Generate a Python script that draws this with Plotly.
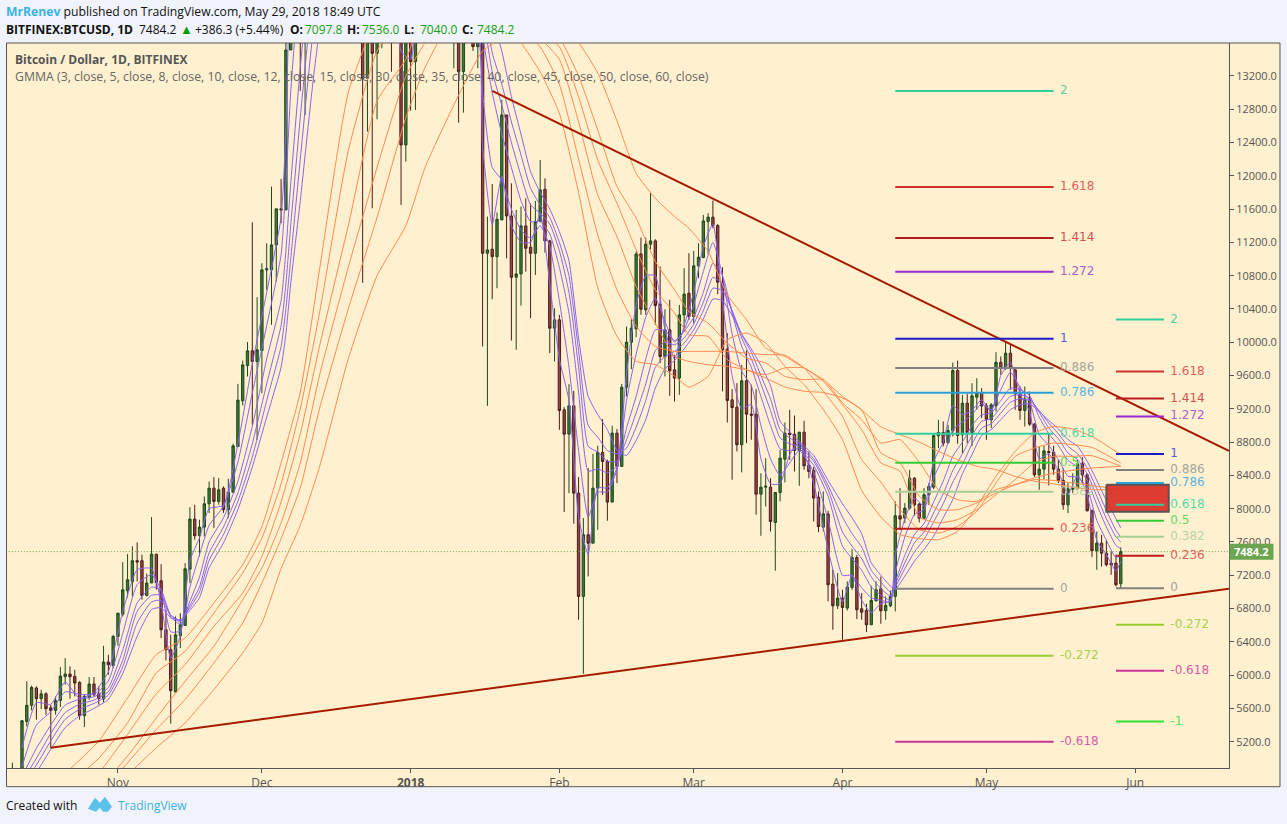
import pandas as pd
import plotly.graph_objects as go

W, H = 1287, 824
L, R, T, B = 7, 1229.5, 43, 768.3

FIRST_DAY = "2017-10-10"
OPEN = [4780,4790,4820,5444,5637,5845,5717,5775,5607,5576,5697,5981,6013,5985,5913,5513,5735,5893,5775,5713,6157,6117,
 6465,6733,7014,7126,7375,7375,6958,7107,7454,7134,6545,6305,5797,6473,6597,7274,7875,7675,7779,8059,8247,8087,8247,7987,8199,8748,9296,9720,9897,9769,
 9901,10870,10870,11170,11603,11590,13512,16500,16300,14700,15300,16800,17200,16300,16400,17500,19300,19100,18900,17300,16000,15500,13172,14400,13472,14200,15800,15400,14400,14500,12371,
 14000,13372,14700,15100,15200,17000,17100,16200,15000,14400,14900,13252,13800,14200,13552,13650,11069,11118,11029,11470,12731,11518,10781,10821,11398,11142,11069,11450,11838,11218,10169,
 10269,9188,8896,9236,8187,6946,7687,7586,8247,8676,8568,8079,8908,8508,9460,10001,10161,11062,10389,11178,11218,10457,9829,10149,9669,9569,10329,10590,
 10309,10918,11018,11450,11503,11402,10722,9917,9308,9220,8768,9537,9136,9136,8175,8259,8259,7834,8195,8595,8908,8896,8699,8920,8523,8459,8139,7778,7935,7094,6833,
 6926,6806,7054,7414,6797,6777,6605,6894,7038,6773,6834,6946,7915,7886,8007,8367,8055,7886,8167,8259,8876,8916,8795,8936,9660,8888,9268,8916,9340,9388,
 9236,9068,9236,9760,9688,9869,9668,9380,9180,9320,9016,8407,8475,8687,8679,8475,8339,8047,8235,8247,8539,8407,7975,7494,7586,7466,7346,7346,7097.8]
HIGH = [4947,4880,5452,5925,5873,5865,5825,5795,5645,5745,6097,6205,6105,6065,5925,5765,5977,5977,5865,6353,6245,6485,
 6745,7358,7454,7547,7595,7447,7219,7899,7454,7334,6785,6485,6705,6745,7346,8019,8047,7867,8147,8327,8379,8367,8267,8359,8780,9500,9780,10001,11442,10541,
 10950,11190,11870,11603,11963,14300,17000,17200,16500,15600,17000,17500,17400,16700,17800,19400,19700,19200,19000,17800,17300,15800,15400,14500,14500,16000,16500,15500,15100,14800,14300,
 14000,15300,15500,15400,17100,17200,17100,16300,15400,14900,15000,14100,14600,14300,14300,13800,11510,11902,11560,12911,12731,11910,11590,11630,11730,11670,11698,12190,11970,11230,10409,
 10329,9220,9496,9416,8379,7887,8487,8660,8756,9076,8590,8996,8956,9500,10189,10277,11090,11258,11258,11791,11238,10910,10397,10510,9849,10449,10890,11070,
 11098,11190,11531,11551,11703,11420,10902,10109,9436,9509,9729,9901,9489,9436,8427,8608,8367,8195,8707,9036,9188,9120,8920,9056,8687,8500,8207,8207,7975,7266,7226,
 7026,7126,7514,7446,6986,6858,7074,7126,7186,6946,7018,8087,8247,8067,8467,8378,8067,8247,8307,8888,9068,9048,9008,9756,9780,9368,9380,9508,9568,9448,
 9268,9268,9881,9829,10009,9969,9688,9468,9468,9408,9030,8747,8755,8908,8755,8587,8487,8307,8427,8587,8619,8427,7990,7726,7686,7626,7486,7446,7536]
LOW = [4720,4740,4800,5384,5576,5465,5592,5525,5125,5525,5616,5885,5717,5745,5465,5375,5705,5745,5645,5673,6005,6085,
 6353,6705,6934,6946,7126,6906,6946,7107,7026,6445,6177,5417,5797,6325,6597,7107,7627,7427,7667,7947,7770,8047,7950,7887,8187,8740,9240,9588,9008,8828,
 9388,10629,10209,10730,11430,11590,13512,15000,13020,12730,15000,16500,15900,16000,16300,17400,18900,18000,16800,14500,14800,10714,12531,11610,12679,13532,14100,13250,14000,11650,12170,
 12783,12791,14500,14000,14800,16200,15700,13900,14000,13292,12639,12759,13700,13500,13292,9949,9236,10517,10649,11470,11009,10021,9909,10440,10849,10289,10809,11450,11077,9869,9769,
 8948,7959,8187,7819,6666,6017,7186,7586,7747,8167,7855,8079,8308,8508,9348,9677,10061,10329,10329,11118,10209,9749,9589,9356,9288,9368,10129,10269,
 10229,10770,11010,11062,11370,10578,9409,9036,8348,8688,8436,8788,8828,7927,7674,8027,7726,7254,8087,8315,8587,8447,8275,8467,8367,7847,7718,7726,6886,6545,6793,
 6425,6777,7026,6673,6665,6517,6605,6886,6617,6665,6817,6765,7746,7826,7987,7915,7835,7875,8047,8235,8727,8747,8779,8868,8780,8667,8787,8755,9188,9088,
 8828,8968,9168,9608,9668,9428,9188,9068,8988,8996,8380,8227,8355,8279,8407,8307,7987,7947,8187,8227,8307,7967,7418,7266,7306,7306,7206,7066,7040]
CLOSE = [4790,4820,5452,5637,5853,5717,5775,5597,5575,5693,5989,6013,5981,5905,5513,5745,5893,5765,5717,6157,6125,6465,
 6745,7026,7146,7375,7359,6958,7107,7454,7114,6545,6305,5813,6485,6605,7278,7875,7675,7779,8059,8247,8087,8227,7987,8199,8755,9304,9728,9897,9769,9909,
 10870,10882,11170,11603,11590,13512,16500,16300,14700,15300,16800,17200,16300,16400,17500,19300,19100,18900,17300,16000,15500,13172,14400,13472,14200,15800,15400,14400,14500,12371,14000,
 13372,14700,15100,15200,17000,17100,16200,15000,14400,14900,13252,13800,14200,13552,13650,11069,11110,11029,11478,12731,11518,10781,10821,11398,11130,11069,11450,11830,11218,10169,10269,
 9180,8896,9236,8187,6946,7687,7586,8247,8676,8568,8079,8908,8508,9460,10001,10169,11062,10397,11178,11218,10441,9829,10149,9657,9569,10329,10578,10309,
 10918,11022,11458,11503,11402,10722,9909,9300,9216,8768,9537,9136,9124,8175,8259,8270,7846,8195,8607,8908,8892,8699,8920,8515,8447,8127,7786,7939,7086,6833,6926,
 6814,7058,7414,6785,6757,6605,6898,7026,6773,6838,6946,7915,7875,8007,8367,8047,7886,8167,8267,8880,8916,8787,8940,9660,8880,9268,8916,9356,9388,9236,
 9076,9248,9760,9688,9869,9688,9380,9180,9320,9016,8407,8475,8695,8675,8475,8339,8047,8239,8247,8539,8407,7975,7494,7586,7466,7326,7326,7086,7484.2]
LAST_PRICE = 7484.2

FAST_DATES = ["2017-10-12","2017-10-15","2017-10-18","2017-10-21","2017-10-24","2017-10-27","2017-10-30","2017-11-02","2017-11-05","2017-11-08",
 "2017-11-10","2017-11-12","2017-11-14","2017-11-16","2017-11-18","2017-11-20","2017-11-23","2017-11-26","2017-11-29","2017-12-02",
 "2017-12-05","2017-12-06","2017-12-07","2017-12-09","2017-12-12","2017-12-20","2017-12-24","2017-12-28","2017-12-30","2018-01-01",
 "2018-01-03","2018-01-06","2018-01-09","2018-01-12","2018-01-15","2018-01-16","2018-01-18","2018-01-20","2018-01-22","2018-01-24",
 "2018-01-26","2018-01-28","2018-01-30","2018-02-01","2018-02-03","2018-02-05","2018-02-07","2018-02-09","2018-02-11","2018-02-13",
 "2018-02-15","2018-02-17","2018-02-19","2018-02-21","2018-02-23","2018-02-25","2018-02-27","2018-03-01","2018-03-03","2018-03-05",
 "2018-03-07","2018-03-09","2018-03-11","2018-03-13","2018-03-15","2018-03-17","2018-03-19","2018-03-21","2018-03-23","2018-03-26",
 "2018-03-29","2018-04-01","2018-04-03","2018-04-05","2018-04-07","2018-04-09","2018-04-11","2018-04-12","2018-04-14","2018-04-16",
 "2018-04-18","2018-04-20","2018-04-22","2018-04-24","2018-04-26","2018-04-28","2018-04-30","2018-05-02","2018-05-04","2018-05-06",
 "2018-05-08","2018-05-10","2018-05-12","2018-05-14","2018-05-16","2018-05-18","2018-05-20","2018-05-22","2018-05-24","2018-05-26",
 "2018-05-28","2018-05-29"]
GMMA_3 = [5130,5668,5650,5917,5720,5789,6040,6762,7267,7281,6871,6200,6474,7375,7652,8000,8040,8780,9740,10600,11500,12550,14500,15400,16900,17000,14100,14900,13500,13400,
 14500,16300,15000,13800,13700,12350,11414,12000,11400,11200,11200,11550,10700,9800,9300,7900,7450,8250,8250,8500,9620,10450,10800,10800,10150,9800,10200,10600,11150,11420,
 10500,9600,9200,9250,8600,8300,8300,8650,8800,8300,7510,6880,7200,6900,6750,6860,6890,7430,7880,8130,8030,8570,8800,9240,9130,9180,9310,9160,9600,9760,
 9380,9170,8600,8660,8450,8170,8400,8170,7620,7450,7250,7370]
GMMA_5 = [4900,5400,5560,5800,5770,5770,5930,6500,7087,7210,7020,6520,6530,7060,7450,7800,8030,8560,9390,10200,11050,11900,13000,14500,16200,17600,14900,15000,14200,13900,
 14300,15700,15500,14400,14000,13000,12100,11950,11600,11350,11250,11400,11150,10500,9700,8700,7900,8200,8200,8470,9300,9860,10300,10530,10250,10000,10150,10450,10850,11200,
 10800,10100,9650,9480,9000,8600,8400,8550,8700,8440,7870,7200,7200,7050,6930,6900,6880,7230,7660,7930,7990,8370,8620,8950,9040,9130,9260,9190,9430,9640,
 9460,9290,8890,8760,8590,8390,8380,8250,7860,7620,7410,7440]
GMMA_8 = [4780,5120,5400,5640,5710,5740,5850,6300,6867,7060,7020,6700,6610,6890,7180,7600,7890,8330,8990,9800,10500,11100,11900,13300,15000,17500,15700,15200,14700,14300,
 14400,15300,15500,14800,14400,13700,13000,12500,12100,11700,11450,11450,11300,10900,10350,9400,8450,8480,8430,8510,8970,9350,9800,10150,10140,10020,10130,10300,10600,10950,
 10800,10350,9950,9700,9350,9000,8720,8700,8720,8520,8150,7550,7400,7260,7060,6960,6900,7120,7440,7690,7820,8080,8330,8630,8800,9000,9130,9150,9300,9450,
 9430,9360,9100,8900,8760,8580,8500,8340,8050,7780,7560,7520]
GMMA_10 = [4720,5000,5300,5550,5650,5700,5800,6180,6767,6960,6960,6720,6640,6840,7060,7470,7780,8190,8780,9500,10200,10700,11400,12700,14400,17200,16000,15400,15000,14600,
 14600,15200,15400,14900,14600,14000,13250,12850,12400,12000,11650,11550,11420,11100,10600,9700,8750,8680,8570,8570,8830,9150,9500,9900,10000,9970,10050,10220,10480,10780,
 10700,10380,10050,9800,9500,9180,8850,8780,8750,8570,8230,7720,7550,7400,7180,7040,6950,7090,7350,7590,7720,7950,8180,8460,8660,8880,9050,9080,9220,9350,
 9370,9330,9160,8970,8840,8670,8590,8420,8150,7880,7660,7600]
GMMA_12 = [4680,4920,5210,5470,5590,5660,5760,6100,6627,6880,6900,6720,6660,6810,7000,7380,7690,8090,8620,9300,9950,10400,11000,12200,13900,16900,16100,15500,15100,14800,
 14700,15200,15300,15000,14700,14200,13480,13100,12650,12250,11850,11650,11500,11200,10800,9900,9000,8860,8700,8660,8730,8980,9300,9700,9830,9890,9990,10150,10380,10650,
 10620,10380,10090,9880,9600,9320,8950,8850,8780,8600,8280,7900,7700,7540,7260,7120,7000,7060,7280,7480,7630,7840,8060,8320,8530,8780,8970,9020,9150,9280,
 9320,9300,9180,9030,8900,8750,8660,8490,8240,7980,7740,7660]
GMMA_15 = [4620,4830,5110,5370,5510,5600,5710,6020,6467,6790,6810,6690,6660,6780,6930,7290,7590,7990,8500,9100,9700,10100,10700,11700,13300,16500,15900,15400,15200,14900,
 14800,15100,15200,15000,14800,14400,13900,13500,12950,12500,12050,11800,11600,11330,10980,10050,9350,9130,8950,8700,8640,8820,9070,9450,9680,9780,9920,10080,10280,10520,
 10500,10320,10100,9920,9720,9480,9050,8920,8808,8640,8340,8060,7890,7700,7350,7200,7070,7030,7190,7370,7510,7670,7890,8110,8420,8650,8880,8950,9070,9190,
 9250,9260,9170,9060,8960,8830,8750,8570,8340,8100,7880,7770]

SLOW_DATES = ["2017-10-22","2017-10-28","2017-11-03","2017-11-09","2017-11-15","2017-11-21","2017-11-27","2017-12-01","2017-12-05","2017-12-09",
 "2017-12-13","2017-12-19","2017-12-25","2017-12-31","2018-01-04","2018-01-10","2018-01-16","2018-01-20","2018-01-24","2018-01-28",
 "2018-02-01","2018-02-05","2018-02-09","2018-02-13","2018-02-17","2018-02-21","2018-02-25","2018-02-28","2018-03-04","2018-03-08",
 "2018-03-12","2018-03-16","2018-03-20","2018-03-24","2018-03-28","2018-04-01","2018-04-05","2018-04-09","2018-04-13","2018-04-17",
 "2018-04-21","2018-04-25","2018-04-29","2018-05-03","2018-05-07","2018-05-11","2018-05-15","2018-05-19","2018-05-23","2018-05-29"]
GMMA_30 = [4870,5207,5727,6247,6447,6867,7327,7787,8550,9400,10870,13000,13900,14300,14500,14700,14200,13900,13600,13250,12750,11800,10654,10071,9771,9731,9591,9460,9590,10030,
 10110,9991,9711,9491,9191,8831,8220,7900,7690,7640,7627,7727,8027,8389,8689,8909,8989,8957,8869,8649]
GMMA_35 = [4700,5000,5427,6027,6287,6747,7227,7647,8300,9200,10350,12300,13500,14000,14300,14500,14200,13950,13750,13550,13100,12200,11290,10631,10191,9950,9890,9890,9890,9890,
 9870,9851,9843,9691,9411,9111,8590,8320,7990,7750,7707,7787,7969,8309,8629,8729,8789,8769,8737,8549]
GMMA_40 = [4600,4830,5287,5777,6127,6587,6987,7427,8080,8900,9950,11400,12900,13400,14000,14300,14150,13950,13800,13650,13400,12650,11770,11271,10671,10230,9830,9770,9730,9710,
 9670,9611,9691,9691,9531,9251,8950,8550,8450,7900,7829,7869,7989,8169,8349,8549,8629,8629,8637,8509]
GMMA_45 = [4500,4650,5027,5487,5927,6347,6907,7287,7830,8550,9600,10900,12100,13200,13600,14100,14050,13950,13820,13720,13550,12950,12190,11671,11111,10630,10350,10090,10070,9790,
 9670,9571,9463,9411,9396,9331,9188,8670,8550,8150,7989,7989,8069,8189,8289,8369,8429,8461,8489,8509]
GMMA_50 = [4450,4580,4947,5347,5707,6147,6627,7107,7640,8250,9200,10400,11500,12700,13300,13900,13950,13900,13830,13750,13650,13200,12550,11871,11491,10970,10630,10370,10230,9990,
 9810,9751,9590,9551,9551,9271,9068,8790,8830,8560,8229,8109,8089,8229,8289,8349,8339,8309,8279,8229]
GMMA_60 = [4350,4450,4800,5127,5427,5827,6267,6627,7280,7800,8500,9800,10800,11400,12100,12850,13500,13650,13700,13750,13800,13600,13235,12660,12031,11730,11510,11370,11090,10570,
 10270,9930,9831,9691,9551,9351,9188,8985,8890,8800,8689,8589,8509,8469,8389,8329,8299,8257,8229,8229]

TREND_DOWN_DATES = ["2018-01-18", "2018-06-20 13:00"]
TREND_DOWN = [13020, 8695]
TREND_UP_DATES = ["2017-10-18", "2018-06-20 13:00"]
TREND_UP = [5128, 7038]
ZONE_DATES = ["2018-05-26", "2018-06-08", "2018-06-08", "2018-05-26", "2018-05-26"]
ZONE_PRICES = [8287, 8287, 7963, 7963, 8287]

FIB_A_DATES = ["2018-04-12", "2018-05-15"]
FIB_A_LABEL_DATE = "2018-05-16 08:00"
FIB_A_LABELS = ["2","1.618","1.414","1.272","1","0.886","0.786","0.618","0.5","0.382","0.236","0","-0.272","-0.618"]
FIB_A_PRICES = [13020,11867,11254,10846,10041,9692,9392,8900,8551,8203,7759,7038,6233,5200]
FIB_B_DATES = ["2018-05-28", "2018-06-07"]
FIB_B_LABEL_DATE = "2018-06-08 08:00"
FIB_B_LABELS = ["2","1.618","1.414","1.272","1","0.886","0.786","0.618","0.5","0.382","0.236","0","-0.272","-0.618","-1"]
FIB_B_PRICES = [10272,9648,9324,9108,8658,8466,8310,8046,7854,7662,7434,7044,6606,6054,5442]
FIB_COLORS = {"2":"#35cf9b","1.618":"#d32f2f","1.414":"#b71c1c","1.272":"#9c27d0","1":"#1a1ac4","0.886":"#808080",
 "0.786":"#2b9fdb","0.618":"#2ed0a0","0.5":"#33cc33","0.382":"#a5cf95","0.236":"#c01818","0":"#808080",
 "-0.272":"#9acd32","-0.618":"#cc3399","-1":"#33e033"}
FIB_TEXT = {"2":"#5bcfa6","1.618":"#e35d5d","1.414":"#d05050","1.272":"#a95fd0","1":"#5a5ad8","0.886":"#a5a5a0",
 "0.786":"#5cb3e0","0.618":"#55d8ac","0.5":"#5fd85f","0.382":"#b5d5aa","0.236":"#e06060","0":"#a5a5a0",
 "-0.272":"#a8cf50","-0.618":"#d95aaa","-1":"#55e055"}

TICK_DATES = ["2017-11-01","2017-12-01","2018-01-01","2018-02-01","2018-03-01","2018-04-01","2018-05-01","2018-06-01"]
TICK_TEXT = ["Nov","Dec","<b>2018</b>","Feb","Mar","Apr","May","Jun"]
PRICE_TICKS = list(range(5200, 13201, 400))

for a in (OPEN, HIGH, LOW, CLOSE):
    assert len(a) == 232, len(a)
for a in (GMMA_3, GMMA_5, GMMA_8, GMMA_10, GMMA_12, GMMA_15):
    assert len(a) == len(FAST_DATES), (len(a), len(FAST_DATES))
for a in (GMMA_30, GMMA_35, GMMA_40, GMMA_45, GMMA_50, GMMA_60):
    assert len(a) == len(SLOW_DATES), (len(a), len(SLOW_DATES))

DAYS = pd.date_range(FIRST_DAY, periods=len(CLOSE), freq="D")

def xp(px):
    return (px - L) / (R - L)
def yp(py):
    return 1 - (py - T) / (B - T)

PURPLE = "rgb(138,98,242)"
ORANGE = "rgb(255,138,78)"
INK = "#555555"

fig = go.Figure()
fig.add_trace(go.Candlestick(x=DAYS, open=OPEN, high=HIGH, low=LOW, close=CLOSE, whiskerwidth=0,
    increasing=dict(line=dict(color="#1c4a1a", width=1), fillcolor="#417539"),
    decreasing=dict(line=dict(color="#4a1c1c", width=1), fillcolor="#964545"),
    showlegend=False, hoverinfo="skip"))
for series in (GMMA_15, GMMA_12, GMMA_10, GMMA_8, GMMA_5, GMMA_3):
    fig.add_trace(go.Scatter(x=FAST_DATES, y=series, mode="lines",
        line=dict(color=PURPLE, width=1, shape="spline", smoothing=0.5), showlegend=False, hoverinfo="skip"))
for series in (GMMA_60, GMMA_50, GMMA_45, GMMA_40, GMMA_35, GMMA_30):
    fig.add_trace(go.Scatter(x=SLOW_DATES, y=series, mode="lines",
        line=dict(color=ORANGE, width=1, shape="spline", smoothing=0.5), showlegend=False, hoverinfo="skip"))

fig.add_trace(go.Scatter(x=[DAYS[0] - pd.Timedelta(days=2), "2018-06-20 13:00"], y=[LAST_PRICE, LAST_PRICE], mode="lines",
    line=dict(color="#6aa84f", width=1, dash="1px,2px"), showlegend=False, hoverinfo="skip"))
fig.add_trace(go.Scatter(x=ZONE_DATES, y=ZONE_PRICES, mode="lines", fill="toself",
    fillcolor="rgba(219,46,38,0.92)", line=dict(color="#555555", width=2), showlegend=False, hoverinfo="skip"))
fig.add_trace(go.Scatter(x=TREND_DOWN_DATES, y=TREND_DOWN, mode="lines",
    line=dict(color="#a61c00", width=2), showlegend=False, hoverinfo="skip"))
fig.add_trace(go.Scatter(x=TREND_UP_DATES, y=TREND_UP, mode="lines",
    line=dict(color="#a61c00", width=2), showlegend=False, hoverinfo="skip"))

for dates, label_date, labels, prices in ((FIB_A_DATES, FIB_A_LABEL_DATE, FIB_A_LABELS, FIB_A_PRICES),
                                          (FIB_B_DATES, FIB_B_LABEL_DATE, FIB_B_LABELS, FIB_B_PRICES)):
    for lab, price in zip(labels, prices):
        fig.add_trace(go.Scatter(x=dates, y=[price, price], mode="lines",
            line=dict(color=FIB_COLORS[lab], width=2), showlegend=False, hoverinfo="skip"))
    fig.add_trace(go.Scatter(x=[label_date] * len(labels), y=prices, mode="text", text=labels,
        textposition="middle right", textfont=dict(family="DejaVu Sans", size=12, color=[FIB_TEXT[l] for l in labels]),
        showlegend=False, hoverinfo="skip"))

BG = "#fff1cf"
PAGE = "#f0f3fa"
SANS = "Open Sans"
GREEN = "#16a016"
shapes = [
    dict(type="rect", xref="paper", yref="paper", layer="below", x0=xp(6.5), x1=xp(1280.5), y0=yp(787), y1=yp(43),
         fillcolor=BG, line=dict(color=INK, width=1)),
    dict(type="rect", xref="paper", yref="paper", layer="above", x0=xp(1230), x1=xp(1274), y0=yp(560), y1=yp(544),
         fillcolor="#6ba550", line=dict(width=0)),
    dict(type="path", xref="paper", yref="paper", layer="above", fillcolor="#5cc2ea", line=dict(width=0),
         path="M %f,%f L %f,%f L %f,%f L %f,%f L %f,%f L %f,%f L %f,%f L %f,%f L %f,%f Z" % (
             xp(88), yp(809), xp(95), yp(798), xp(100), yp(803), xp(105), yp(797), xp(112), yp(807),
             xp(108), yp(812), xp(103), yp(812), xp(100), yp(808), xp(96), yp(812))),
]

def note(px, py, text, size=12, color="#111111", family=SANS, anchor="left"):
    return dict(xref="paper", yref="paper", x=xp(px - (2 if anchor == "left" else 0)), y=yp(py), text=text, showarrow=False,
                xanchor=anchor, yanchor="middle", align="left", font=dict(family=family, size=size, color=color))

annotations = [
    note(6, 11, '<span style="color:#3bb3e4"><b>MrRenev</b></span> published on TradingView.com, May 29, 2018 18:49 UTC', size=12.2),
    note(6, 29, '<b>BITFINEX:BTCUSD, 1D</b>'),
    note(139, 29, "7484.2"),
    note(180, 29, "▲", size=13, color="#0a9a0a"),
    note(195, 29, "+386.3 (+5.44%)"),
    note(290, 29, "<b>O:</b>"),
    note(305, 29, "7097.8", color=GREEN),
    note(347, 29, "<b>H:</b>"),
    note(362, 29, "7536.0", color=GREEN),
    note(404, 29, "<b>L:</b>"),
    note(420, 29, "7040.0", color=GREEN),
    note(462, 29, "<b>C:</b>"),
    note(477, 29, "7484.2", color=GREEN),
    note(15, 60, "<b>Bitcoin / Dollar, 1D, BITFINEX</b>", color=INK),
    note(15, 77, "GMMA (3, close, 5, close, 8, close, 10, close, 12, close, 15, close, 30, close, 35, close, 40, close, 45, close, 50, close, 60, close)", color="#666666", size=12.3),
    note(6, 806, "Created with"),
    note(118, 806, "TradingView", color="#3bb3e4"),
    note(1252, 552, "<b>7484.2</b>", size=11, color="#ffffff", anchor="center"),
]

fig.update_layout(
    width=W, height=H, autosize=False,
    margin=dict(l=L, r=W - R, t=T, b=H - B, pad=0),
    paper_bgcolor=PAGE, plot_bgcolor=BG, showlegend=False,
    shapes=shapes, annotations=annotations, dragmode=False,
    font=dict(family=SANS, size=11, color=INK),
    xaxis=dict(type="date", range=["2017-10-08 21:00", "2018-06-20 13:26"], rangeslider=dict(visible=False),
        tickvals=TICK_DATES, ticktext=TICK_TEXT, ticks="outside", ticklen=4, tickcolor=INK, tickfont=dict(size=12, color=INK, family=SANS),
        showgrid=False, zeroline=False, showline=True, linecolor=INK, linewidth=1),
    yaxis=dict(range=[4884, 13596], side="right", tickvals=PRICE_TICKS, tickformat=".1f", ticks="outside", ticklen=4,
        tickcolor=INK, tickfont=dict(size=11, color=INK, family=SANS), showgrid=False, zeroline=False,
        showline=True, linecolor=INK, linewidth=1),
)

fig.write_html("out.html", config={"displayModeBar": False},
               post_script="document.body.style.margin='0';document.body.style.overflow='hidden';")
